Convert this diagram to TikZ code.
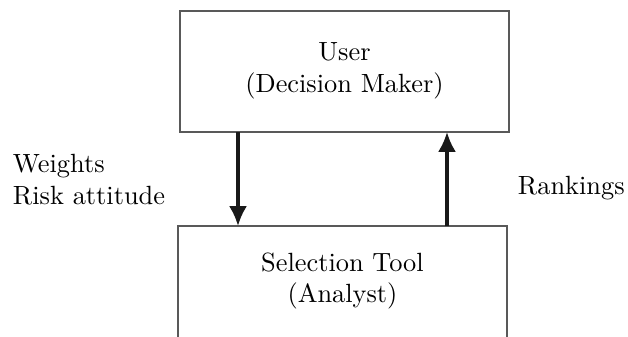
\documentclass[tikz,border=0pt]{standalone}
\usetikzlibrary{arrows.meta}
\begin{document}
\begin{tikzpicture}[x=0.3795pt,y=-0.3795pt,
  box/.style={draw=black!65,line width=0.4pt,inner sep=0pt,outer sep=0pt,minimum width=124.86pt},
  txt/.style={inner sep=0pt,outer sep=0pt,align=center},
  lbl/.style={inner sep=0pt,outer sep=0pt,align=left},
  arr/.style={line width=1.2pt,-{Latex[length=7.5pt,width=6.8pt]},black!90}]
\useasboundingbox (0,0) rectangle (628,336);
\node[box,minimum height=45.92pt] (user) at (344.5,71.5) {};
\node[box,minimum height=49.34pt] (tool) at (342.5,291) {};
\node[txt] (usertxt) at (344.5,70.5) {User\\(Decision Maker)};
\node[txt] (tooltxt) at (342.5,281) {Selection Tool\\(Analyst)};
\coordinate (down) at (238,0);
\coordinate (up) at (447,0);
\draw[arr] (down |- user.south) -- (down |- tool.north);
\draw[arr] (up |- tool.north) -- (up |- user.south);
\node[lbl,anchor=west] (inputs) at (13,179.7) {Weights\\Risk attitude};
\node[lbl,anchor=base west] (rank) at (518,194) {Rankings};
\end{tikzpicture}
\end{document}
